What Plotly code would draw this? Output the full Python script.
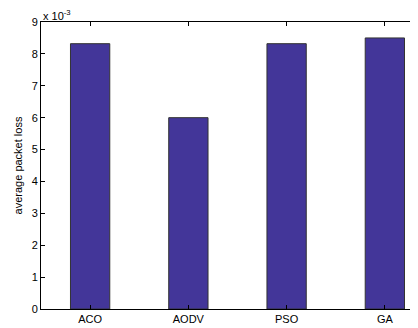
import plotly.graph_objects as go

categories = ["ACO", "AODV", "PSO", "GA"]
packet_loss_e3 = [8.32, 6.0, 8.32, 8.5]   # values in units of 1e-3
y_ticks = [0, 1, 2, 3, 4, 5, 6, 7, 8, 9]

x_pos = [1, 2, 3, 4]

fig = go.Figure()
fig.add_trace(go.Bar(
    x=x_pos, y=packet_loss_e3, width=0.4,
    marker=dict(color="#433699", line=dict(color="#333333", width=1)),
))

font = dict(family="Liberation Sans, Arial, sans-serif", size=11, color="black")

# page body has an 8px default margin; figure sized to fill the rest of the 418x328 window
fig.update_layout(
    template="none",
    width=410, height=320,
    margin=dict(l=33, r=2, t=14, b=19),
    paper_bgcolor="white", plot_bgcolor="white",
    showlegend=False,
    font=font,
    xaxis=dict(
        range=[0.5, 4.317], tickmode="array", tickvals=x_pos, ticktext=categories,
        showgrid=False, zeroline=False, showline=True, linecolor="black", linewidth=1,
        mirror="ticks", ticks="inside", ticklen=4, tickcolor="black", tickfont=font,
        automargin=False,
    ),
    yaxis=dict(
        range=[0, 9], tickmode="array", tickvals=y_ticks,
        showgrid=False, zeroline=False, showline=True, linecolor="black", linewidth=1,
        ticks="inside", ticklen=4, tickcolor="black", tickfont=font, automargin=False,
        title=dict(text="average packet loss",
                   font=dict(family=font["family"], size=11, color="black"), standoff=6),
    ),
    shapes=[dict(type="line", xref="paper", yref="paper", x0=1, x1=1, y0=0, y1=1,
                 line=dict(color="#888888", width=1))],
    annotations=[dict(text="x 10<sup>-3</sup>", xref="paper", yref="paper", x=0, y=1,
                      xanchor="left", yanchor="bottom", showarrow=False, yshift=-2,
                      font=dict(family=font["family"], size=11, color="black"))],
)

fig.write_html("out.html")
